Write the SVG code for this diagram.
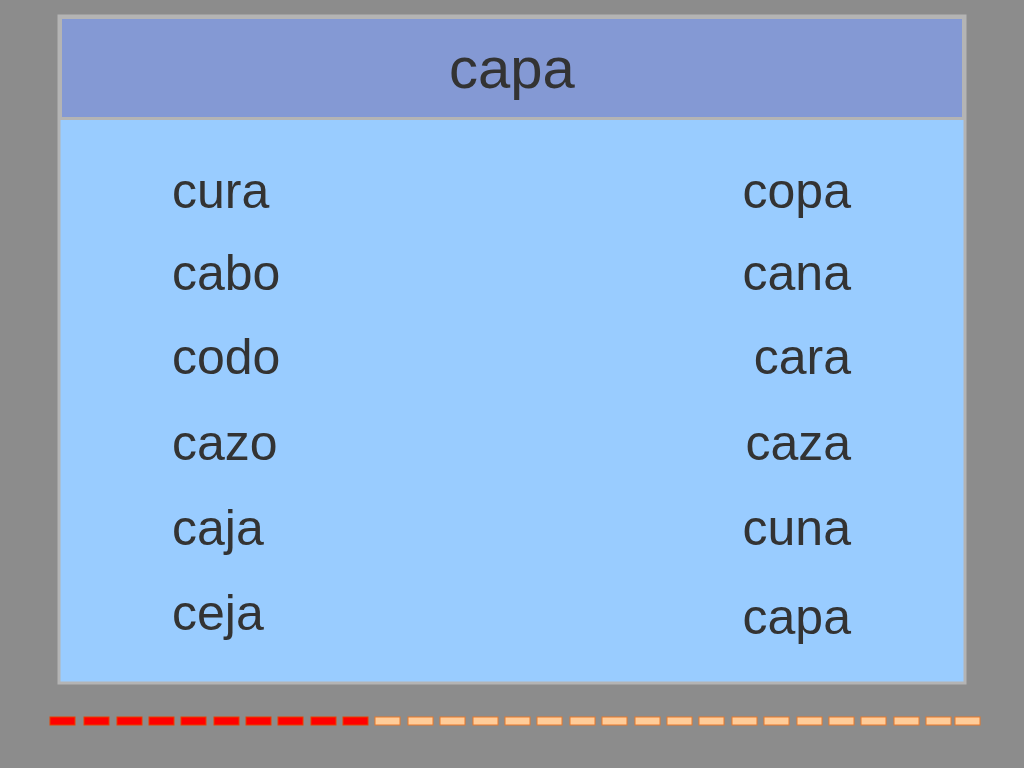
<svg xmlns="http://www.w3.org/2000/svg" width="1024" height="768" viewBox="0 0 1024 768">
<style>
text{font-family:"Liberation Sans",Arial,sans-serif;fill:#333333;font-size:50px}
.r{text-anchor:end}
.d1{fill:#ff0000;stroke:#e84000;stroke-width:1}
.d2{fill:#ffcc99;stroke:#e8782a;stroke-width:1}
</style>
<rect width="1024" height="768" fill="#8c8c8c"/>
<g id="box">
<rect x="59" y="16" width="906" height="667" fill="#99ccff" stroke="#b4b4b4" stroke-width="3"/>
<rect x="60.5" y="17.5" width="903" height="101" fill="#8499d4" stroke="#b4b4b4" stroke-width="3"/>
<text x="512" y="88" text-anchor="middle" font-size="58" style="font-size:58px">capa</text>
</g>
<g id="left">
<text x="172" y="208">cura</text>
<text x="172" y="290">cabo</text>
<text x="172" y="374">codo</text>
<text x="172" y="460">cazo</text>
<text x="172" y="545">caja</text>
<text x="172" y="630">ceja</text>
</g>
<g id="right">
<text class="r" x="851" y="208">copa</text>
<text class="r" x="851" y="290">cana</text>
<text class="r" x="851" y="374">cara</text>
<text class="r" x="851" y="460">caza</text>
<text class="r" x="851" y="545">cuna</text>
<text class="r" x="851" y="634">capa</text>
</g>
<g id="dashes">
<rect class="d1" x="50" y="717" width="25" height="8"/>
<rect class="d1" x="84" y="717" width="25" height="8"/>
<rect class="d1" x="117" y="717" width="25" height="8"/>
<rect class="d1" x="149" y="717" width="25" height="8"/>
<rect class="d1" x="181" y="717" width="25" height="8"/>
<rect class="d1" x="214" y="717" width="25" height="8"/>
<rect class="d1" x="246" y="717" width="25" height="8"/>
<rect class="d1" x="278" y="717" width="25" height="8"/>
<rect class="d1" x="311" y="717" width="25" height="8"/>
<rect class="d1" x="343" y="717" width="25" height="8"/>
<rect class="d2" x="375" y="717" width="25" height="8"/>
<rect class="d2" x="408" y="717" width="25" height="8"/>
<rect class="d2" x="440" y="717" width="25" height="8"/>
<rect class="d2" x="473" y="717" width="25" height="8"/>
<rect class="d2" x="505" y="717" width="25" height="8"/>
<rect class="d2" x="537" y="717" width="25" height="8"/>
<rect class="d2" x="570" y="717" width="25" height="8"/>
<rect class="d2" x="602" y="717" width="25" height="8"/>
<rect class="d2" x="635" y="717" width="25" height="8"/>
<rect class="d2" x="667" y="717" width="25" height="8"/>
<rect class="d2" x="699" y="717" width="25" height="8"/>
<rect class="d2" x="732" y="717" width="25" height="8"/>
<rect class="d2" x="764" y="717" width="25" height="8"/>
<rect class="d2" x="797" y="717" width="25" height="8"/>
<rect class="d2" x="829" y="717" width="25" height="8"/>
<rect class="d2" x="861" y="717" width="25" height="8"/>
<rect class="d2" x="894" y="717" width="25" height="8"/>
<rect class="d2" x="926" y="717" width="25" height="8"/>
<rect class="d2" x="955" y="717" width="25" height="8"/>
</g>
</svg>
